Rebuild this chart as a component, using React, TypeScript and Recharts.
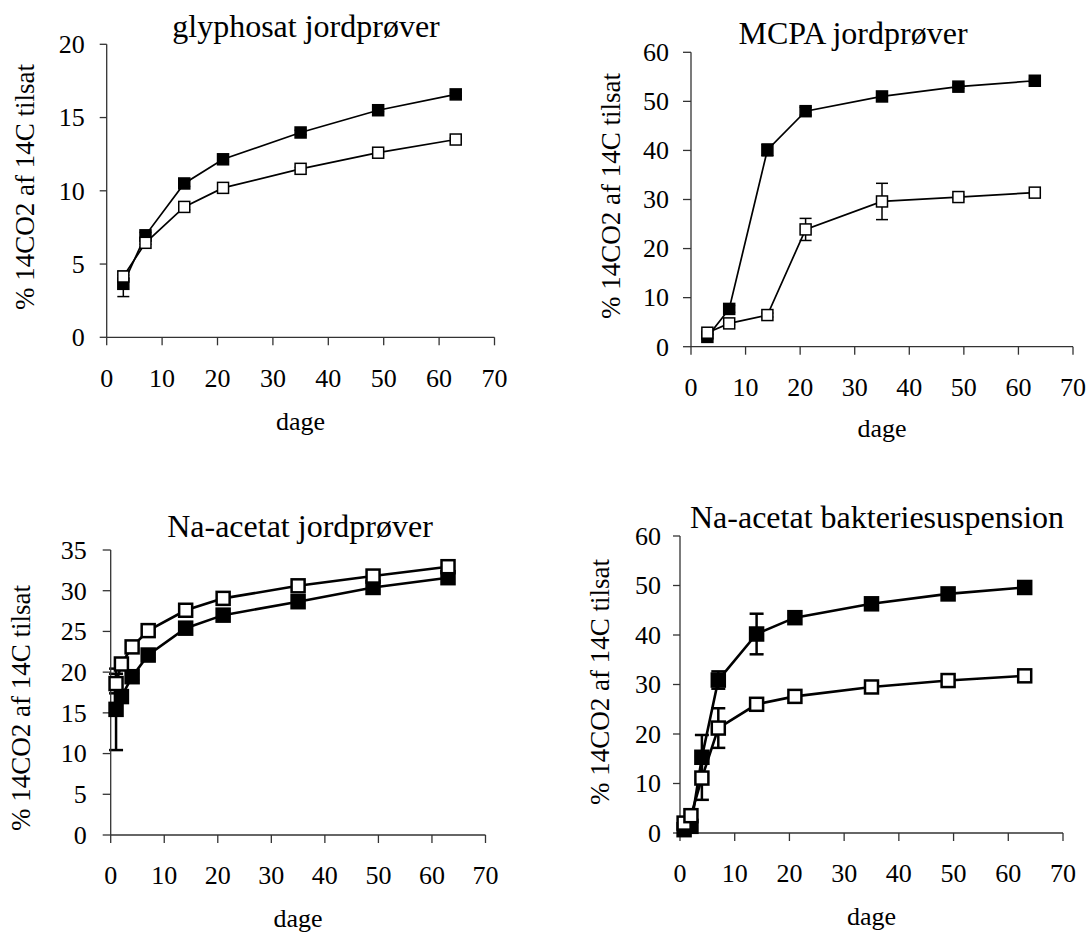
import React from 'react';
import { LineChart, Line, XAxis, YAxis, ErrorBar, Label } from 'recharts';

const FONT = '"Liberation Serif", "Times New Roman", Times, serif';

// ---------- data ----------
const xTicks = [0, 10, 20, 30, 40, 50, 60, 70];
const yLabelText = '% 14CO2 af 14C tilsat';
const xLabelText = 'dage';

// glyphosat jordprøver
const glyDays = [3, 7, 14, 21, 35, 49, 63];
const glyFilled = [3.65, 6.96, 10.5, 12.15, 13.98, 15.5, 16.58];
const glyFilledErr = [0.87, 0.2, 0.2, 0.15, 0.15, 0.1, 0.1];
const glyOpen = [4.15, 6.45, 8.9, 10.2, 11.5, 12.6, 13.5];
const glyOpenErr = [0.1, 0.1, 0.2, 0.1, 0.1, 0.1, 0.1];
const glyTicks = [0, 5, 10, 15, 20];

// MCPA jordprøver
const mcpaDays = [3, 7, 14, 21, 35, 49, 63];
const mcpaFilled = [2.0, 7.7, 40.1, 48.0, 51.0, 53.0, 54.2];
const mcpaFilledErr = [0.5, 0.7, 1.2, 0.8, 0.4, 0.3, 0.3];
const mcpaOpen = [2.85, 4.75, 6.45, 23.9, 29.6, 30.5, 31.4];
const mcpaOpenErr = [0.3, 0.3, 0.4, 2.25, 3.7, 0.4, 0.3];
const mcpaTicks = [0, 10, 20, 30, 40, 50, 60];

// Na-acetat jordprøver
const naJDays = [1, 2, 4, 7, 14, 21, 35, 49, 63];
const naJFilled = [15.43, 17.0, 19.44, 22.1, 25.4, 27.0, 28.65, 30.4, 31.6];
const naJFilledErr = [5.0, 0.4, 0.4, 0.4, 0.3, 0.3, 0.3, 0.3, 0.3];
const naJOpen = [18.6, 21.0, 23.1, 25.1, 27.6, 29.06, 30.6, 31.8, 32.95];
const naJOpenErr = [1.2, 0.3, 0.3, 0.3, 0.3, 0.3, 0.3, 0.3, 0.3];
const naJTicks = [0, 5, 10, 15, 20, 25, 30, 35];

// Na-acetat bakteriesuspension
const naBDays = [0.75, 2, 4, 7, 14, 21, 35, 49, 63];
const naBFilled = [0.67, 1.35, 15.3, 30.9, 40.2, 43.5, 46.3, 48.3, 49.6];
const naBFilledErr = [0.5, 1.0, 4.5, 1.75, 4.1, 0.6, 0.6, 0.5, 0.4];
const naBOpen = [2.0, 3.5, 11.1, 21.2, 26.0, 27.6, 29.5, 30.8, 31.75];
const naBOpenErr = [0.3, 0.5, 4.4, 4.0, 1.1, 0.3, 0.3, 0.3, 0.3];
const naBTicks = [0, 10, 20, 30, 40, 50, 60];

const build = (days: number[], f: number[], fe: number[], o: number[], oe: number[]) =>
  days.map((d, i) => ({ day: d, filled: f[i], filledErr: fe[i], open: o[i], openErr: oe[i] }));

// ---------- layout ----------
type Layout = {
  left: number; top: number; width: number; height: number;
  x0: number; x1: number; y0: number; y1: number;
  yTickSize: number; yTickMargin: number;
  titleX: number; titleBase: number;
  yLabelX: number; yLabelY: number; dageBase: number;
  big: boolean;
};

const TICK_FS = 26;

const square = (size: number, filled: boolean, sw: number) => (props: any) => {
  const { cx, cy, index } = props;
  if (cx == null || cy == null) return <g key={`e${index}`} />;
  return (
    <rect
      key={`d${index}`}
      x={cx - size / 2}
      y={cy - size / 2}
      width={size}
      height={size}
      fill={filled ? '#000' : '#fff'}
      stroke="#000"
      strokeWidth={sw}
    />
  );
};

const XTick = (props: any) => {
  const { x, y, payload } = props;
  return (
    <text x={x} y={y} dy="0.71em" textAnchor="middle" style={{ fontFamily: FONT, fontSize: TICK_FS, fill: '#000' }}>
      {payload.value}
    </text>
  );
};

const YTick = (props: any) => {
  const { x, y, payload } = props;
  return (
    <text x={x} y={y} dy="0.34em" textAnchor="end" style={{ fontFamily: FONT, fontSize: TICK_FS, fill: '#000' }}>
      {payload.value}
    </text>
  );
};

type PanelProps = {
  title: string;
  data: any[];
  yMax: number;
  yTicks: number[];
  L: Layout;
};

const Panel = ({ title, data, yMax, yTicks, L }: PanelProps) => {
  const xAxisH = 100;
  const margin = {
    top: L.y0 - L.top,
    left: 0,
    right: L.left + L.width - L.x1,
    bottom: L.top + L.height - L.y1 - xAxisH,
  };
  const yAxisW = L.x0 - L.left;
  const lw = L.big ? 2.6 : 1.7;
  const ms = L.big ? 13 : 11;
  const msw = L.big ? 2.5 : 1.5;
  const capW = L.big ? 7 : 6;
  const axisStyle = { stroke: '#333', strokeWidth: 1.3 };
  return (
    <div style={{ position: 'absolute', left: L.left, top: L.top, width: L.width, height: L.height, fontFamily: FONT }}>
      <LineChart width={L.width} height={L.height} data={data} margin={margin} style={{ fontFamily: FONT }}>
        <XAxis
          type="number"
          dataKey="day"
          domain={[0, 70]}
          ticks={xTicks}
          interval={0}
          height={xAxisH}
          tickSize={8}
          tickMargin={23}
          tick={<XTick />}
          axisLine={axisStyle}
          tickLine={axisStyle}
        >
          <Label
            content={() => (
              <text
                x={(L.x0 + L.x1) / 2 - L.left}
                y={L.dageBase - L.top}
                textAnchor="middle"
                style={{ fontFamily: FONT, fontSize: 26, fill: '#000' }}
              >
                {xLabelText}
              </text>
            )}
          />
        </XAxis>
        <YAxis
          type="number"
          domain={[0, yMax]}
          ticks={yTicks}
          interval={0}
          width={yAxisW}
          tickSize={L.yTickSize}
          tickMargin={L.yTickMargin}
          tick={<YTick />}
          axisLine={axisStyle}
          tickLine={axisStyle}
        >
          <Label
            content={() => {
              const x = L.yLabelX - L.left;
              const y = L.yLabelY - L.top;
              return (
                <text
                  x={x}
                  y={y}
                  dy="0.33em"
                  transform={`rotate(-90, ${x}, ${y})`}
                  textAnchor="middle"
                  style={{ fontFamily: FONT, fontSize: 27, fill: '#000' }}
                >
                  {yLabelText}
                </text>
              );
            }}
          />
        </YAxis>
        <Line
          dataKey="filled"
          stroke="#000"
          strokeWidth={lw}
          isAnimationActive={false}
          dot={square(ms, true, msw)}
          activeDot={false}
        >
          <ErrorBar dataKey="filledErr" direction="y" width={capW} stroke="#000" strokeWidth={msw} />
        </Line>
        <Line
          dataKey="open"
          stroke="#000"
          strokeWidth={lw}
          isAnimationActive={false}
          dot={square(ms, false, msw)}
          activeDot={false}
        >
          <ErrorBar dataKey="openErr" direction="y" width={capW} stroke="#000" strokeWidth={msw} />
        </Line>
      </LineChart>
      <div
        style={{
          position: 'absolute',
          left: L.titleX - L.left,
          top: L.titleBase - L.top - 27,
          transform: 'translateX(-50%)',
          whiteSpace: 'nowrap',
          fontFamily: FONT,
          fontSize: 32,
          lineHeight: '32px',
          color: '#000',
        }}
      >
        {title}
      </div>
    </div>
  );
};

const L1: Layout = { left: 0, top: 0, width: 544, height: 460, x0: 106.7, x1: 494.5, y0: 44.3, y1: 337.3, yTickSize: 7, yTickMargin: 15, titleX: 306, titleBase: 37, yLabelX: 25, yLabelY: 187, dageBase: 430, big: false };
const L2: Layout = { left: 544, top: 0, width: 544, height: 460, x0: 691, x1: 1073, y0: 52.3, y1: 346.7, yTickSize: 8, yTickMargin: 14, titleX: 853, titleBase: 44, yLabelX: 611, yLabelY: 196, dageBase: 437, big: false };
const L3: Layout = { left: 0, top: 460, width: 544, height: 475, x0: 110.7, x1: 485.5, y0: 550, y1: 835, yTickSize: 8, yTickMargin: 16, titleX: 300, titleBase: 537, yLabelX: 21, yLabelY: 708, dageBase: 927, big: true };
const L4: Layout = { left: 544, top: 460, width: 544, height: 475, x0: 680, x1: 1063, y0: 536, y1: 833, yTickSize: 7, yTickMargin: 12, titleX: 877, titleBase: 528, yLabelX: 600, yLabelY: 682, dageBase: 925, big: true };

export default function App() {
  return (
    <div style={{ position: 'absolute', left: 0, top: 0, width: 1088, height: 935, background: '#fff', overflow: 'hidden' }}>
      <Panel title="glyphosat jordprøver" data={build(glyDays, glyFilled, glyFilledErr, glyOpen, glyOpenErr)} yMax={20} yTicks={glyTicks} L={L1} />
      <Panel title="MCPA jordprøver" data={build(mcpaDays, mcpaFilled, mcpaFilledErr, mcpaOpen, mcpaOpenErr)} yMax={60} yTicks={mcpaTicks} L={L2} />
      <Panel title="Na-acetat jordprøver" data={build(naJDays, naJFilled, naJFilledErr, naJOpen, naJOpenErr)} yMax={35} yTicks={naJTicks} L={L3} />
      <Panel title="Na-acetat bakteriesuspension" data={build(naBDays, naBFilled, naBFilledErr, naBOpen, naBOpenErr)} yMax={60} yTicks={naBTicks} L={L4} />
    </div>
  );
}
